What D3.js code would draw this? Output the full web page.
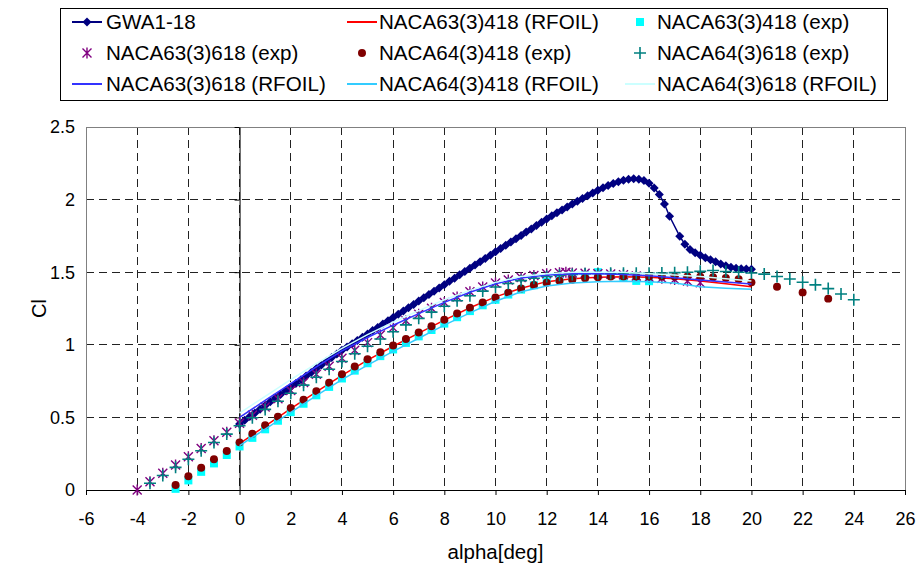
<!DOCTYPE html>
<html><head><meta charset="utf-8">
<script src="https://cdn.jsdelivr.net/npm/d3@7"></script>
<style>body{margin:0;background:#fff;} svg{display:block;font-family:"Liberation Sans",Arial,sans-serif;}</style>
</head><body><svg id="c" width="920" height="572"></svg>
<script>
// ---------- data ----------
const xTicks = [-6,-4,-2,0,2,4,6,8,10,12,14,16,18,20,22,24,26];
const yTicks = [0,0.5,1,1.5,2,2.5];
const yTickLabels = ["0","0.5","1","1.5","2","2.5"];

const gwaAlpha = [0,0.2,0.4,0.6,0.8,1,1.2,1.4,1.6,1.8,2,2.2,2.4,2.6,2.8,3,3.2,3.4,3.6,3.8,4,4.2,4.4,4.6,4.8,5,5.2,5.4,5.6,5.8,6,6.2,6.4,6.6,6.8,7,7.2,7.4,7.6,7.8,8,8.2,8.4,8.6,8.8,9,9.2,9.4,9.6,9.8,10,10.2,10.4,10.6,10.8,11,11.2,11.4,11.6,11.8,12,12.2,12.4,12.6,12.8,13,13.2,13.4,13.6,13.8,14,14.2,14.4,14.6,14.8,15,15.2,15.4,15.6,15.8,16,16.2,16.4,16.6,16.8,17.2,17.4,17.6,17.8,18,18.2,18.4,18.6,18.8,19,19.2,19.4,19.6,19.8,20];
const gwaCl = [0.455,0.480,0.506,0.531,0.556,0.582,0.607,0.633,0.658,0.683,
0.709,0.734,0.760,0.785,0.810,0.836,0.861,0.886,0.912,0.937,
0.962,0.985,1.007,1.030,1.052,1.075,1.098,1.120,1.143,1.165,
1.188,1.211,1.233,1.256,1.278,1.301,1.324,1.346,1.369,1.391,
1.414,1.437,1.459,1.482,1.504,1.527,1.550,1.572,1.595,1.617,
1.640,1.663,1.685,1.708,1.730,1.753,1.776,1.798,1.821,1.844,
1.866,1.888,1.909,1.929,1.949,1.969,1.989,2.008,2.027,2.046,
2.064,2.081,2.097,2.111,2.123,2.133,2.140,2.143,2.141,2.132,
2.112,2.080,2.035,1.970,1.885,
1.747,1.693,1.657,1.634,1.616,1.600,1.585,1.572,1.557,1.544,1.534,1.528,1.524,1.522,1.520];

const rfoilAlpha = [0,1,2,3,4,5,6,7,8,9,10,11,12,13,14,15,16,17,18,19,20];
const n63418RfoilCl = [0.320,0.440,0.560,0.675,0.790,0.895,0.990,1.080,1.170,1.255,1.330,1.390,1.435,1.455,1.465,1.468,1.465,1.455,1.440,1.420,1.400];
const n63618RfoilCl = [0.500,0.617,0.733,0.848,0.958,1.050,1.135,1.215,1.292,1.362,1.420,1.460,1.480,1.490,1.490,1.485,1.475,1.462,1.447,1.432,1.418];
const n64418RfoilCl = [0.305,0.420,0.535,0.650,0.760,0.860,0.955,1.045,1.135,1.220,1.300,1.365,1.405,1.425,1.435,1.437,1.435,1.425,1.400,1.390,1.383];
const n64618RfoilCl = [0.530,0.645,0.760,0.870,0.975,1.070,1.155,1.235,1.310,1.375,1.430,1.470,1.490,1.500,1.500,1.500,1.490,1.480,1.470,1.455,1.440];

const n63418ExpAlpha = [-2.5,-2,-1.5,-1,-0.5,0,0.5,1,1.5,2,2.5,3,3.5,4,4.5,5,5.5,6,6.5,7,7.5,8,8.5,9,9.5,10,10.5,11,11.5,12,12.5,13,13.5,14,14.5,15,15.5,16];
const n63418ExpCl = [0.008,0.066,0.125,0.183,0.241,0.300,0.359,0.418,0.477,0.536,0.594,0.652,0.710,0.768,0.822,0.873,0.922,0.968,1.013,1.058,1.102,1.146,1.190,1.232,1.272,1.310,1.346,1.380,1.410,1.435,1.455,1.470,1.482,1.500,1.480,1.462,1.440,1.438];

const n63618ExpAlpha = [-4,-3.5,-3,-2.5,-2,-1.5,-1,-0.5,0,0.5,1,1.5,2,2.5,3,3.5,4,4.5,5,5.5,6,6.5,7,7.5,8,8.5,9,9.5,10,10.5,11,11.5,12,12.5,12.75,13,13.5,14,14.5,15,15.5,16,16.5,17,17.5,18];
const n63618ExpCl = [0.000,0.057,0.115,0.172,0.229,0.285,0.340,0.397,0.460,0.515,0.572,0.628,0.685,0.740,0.797,0.853,0.908,0.962,1.015,1.068,1.118,1.165,1.210,1.252,1.292,1.330,1.366,1.398,1.425,1.447,1.464,1.478,1.489,1.496,1.500,1.494,1.492,1.490,1.487,1.482,1.474,1.466,1.458,1.450,1.440,1.428];

const n64418ExpAlpha = [-2.5,-2,-1.5,-1,-0.5,0,0.5,1,1.5,2,2.5,3,3.5,4,4.5,5,5.5,6,6.5,7,7.5,8,8.5,9,9.5,10,10.5,11,11.5,12,12.5,13,13.5,14,14.5,15,15.5,16,16.5,17,17.5,18,18.5,19,19.5,20,21,22,23];
const n64418ExpCl = [0.034,0.094,0.153,0.211,0.269,0.328,0.387,0.446,0.505,0.564,0.622,0.681,0.739,0.797,0.850,0.901,0.949,0.995,1.040,1.085,1.128,1.172,1.216,1.256,1.291,1.325,1.358,1.388,1.412,1.428,1.441,1.448,1.458,1.466,1.470,1.471,1.470,1.470,1.470,1.470,1.470,1.468,1.466,1.460,1.452,1.430,1.400,1.361,1.318];

const n64618ExpAlpha = [-3.5,-3,-2.5,-2,-1.5,-1,-0.5,0,0.5,1,1.5,2,2.5,3,3.5,4,4.5,5,5.5,6,6.5,7,7.5,8,8.5,9,9.5,10,10.5,11,11.5,12,12.5,13,13.5,14,14.5,15,15.5,16,16.5,17,17.5,18,18.5,19,19.5,20,20.5,21,21.5,22,22.5,23,23.5,24];
const n64618ExpCl = [0.046,0.100,0.156,0.212,0.270,0.327,0.385,0.442,0.498,0.555,0.611,0.666,0.722,0.777,0.832,0.885,0.938,0.990,1.040,1.090,1.137,1.182,1.225,1.265,1.303,1.338,1.370,1.398,1.422,1.442,1.458,1.470,1.479,1.485,1.489,1.491,1.492,1.492,1.492,1.492,1.495,1.497,1.500,1.506,1.512,1.505,1.500,1.494,1.487,1.470,1.453,1.431,1.413,1.387,1.350,1.310];

const legendLabels = ["GWA1-18","NACA63(3)418 (RFOIL)","NACA63(3)418 (exp)","NACA63(3)618 (exp)","NACA64(3)418 (exp)","NACA64(3)618 (exp)","NACA63(3)618 (RFOIL)","NACA64(3)418 (RFOIL)","NACA64(3)618 (RFOIL)"];

// ---------- drawing ----------
const svg = d3.select("#c");
svg.append("rect").attr("width",920).attr("height",572).attr("fill","#fff");
const x = d3.scaleLinear().domain([-6,26]).range([86,905]);
const y = d3.scaleLinear().domain([0,2.5]).range([490,127]);
const zip = (a,b)=>a.map((v,i)=>[v,b[i]]);

// grid
const grid = svg.append("g");
grid.selectAll("line.v").data(xTicks).join("line")
  .attr("x1",d=>x(d)).attr("x2",d=>x(d)).attr("y1",y(2.5)).attr("y2",y(0))
  .attr("stroke","#222").attr("stroke-width",1).attr("stroke-dasharray","8,5").attr("shape-rendering","crispEdges");
grid.selectAll("line.h").data(yTicks).join("line")
  .attr("y1",d=>y(d)).attr("y2",d=>y(d)).attr("x1",x(-6)).attr("x2",x(26))
  .attr("stroke","#222").attr("stroke-width",1).attr("stroke-dasharray","8,5").attr("shape-rendering","crispEdges");
// plot border
svg.append("rect").attr("x",x(-6)).attr("y",y(2.5)).attr("width",x(26)-x(-6)).attr("height",y(0)-y(2.5))
  .attr("fill","none").attr("stroke","#808080").attr("stroke-width",1).attr("shape-rendering","crispEdges");

// x axis at y=0
const xAxis = d3.axisBottom(x).tickValues(xTicks).tickSize(5).tickSizeOuter(0).tickPadding(17).tickFormat(d=>String(d));
const gx = svg.append("g").attr("transform",`translate(0,${y(0)})`).call(xAxis);
gx.select(".domain").attr("stroke","#000");
gx.selectAll(".tick line").attr("stroke","#000");
gx.selectAll("text").attr("font-size",18).attr("fill","#000").attr("font-family","Liberation Sans, Arial, sans-serif");
// y axis at alpha=0
const yAxis = d3.axisLeft(y).tickValues(yTicks).tickSize(5).tickSizeOuter(0).tickFormat("");
const gy = svg.append("g").attr("transform",`translate(${x(0)},0)`).call(yAxis);
gy.select(".domain").attr("stroke","#000");
gy.selectAll(".tick line").attr("stroke","#000");
// y tick labels at left (low)
svg.append("g").selectAll("text").data(yTicks).join("text")
  .attr("x",75).attr("y",d=>y(d)).attr("dy","0.35em").attr("text-anchor","end")
  .attr("font-size",18).text((d,i)=>yTickLabels[i]);

// axis titles
svg.append("text").attr("x",(x(-6)+x(26))/2).attr("y",559).attr("text-anchor","middle").attr("font-size",20.5).text("alpha[deg]");
svg.append("text").attr("transform",`translate(46,${(y(0)+y(2.5))/2}) rotate(-90)`).attr("text-anchor","middle").attr("font-size",20).text("Cl");

// symbols
const diamond = "M0,-4.5L4.5,0L0,4.5L-4.5,0Z";
const square = "M-4,-4H4V4H-4Z";
const asterisk = "M-4.5,-4.5L4.5,4.5M-4.5,4.5L4.5,-4.5M0,-5.5V5.5";
const plus = "M-6,0H6M0,-6V6";
const circle = d3.symbol(d3.symbolCircle,50)();

const line = d3.line().x(d=>x(d[0])).y(d=>y(d[1]));
const plot = svg.append("g");

function drawLine(data,color,w){
  plot.append("path").datum(data).attr("d",line).attr("fill","none").attr("stroke",color).attr("stroke-width",w);
}
function drawMarks(data,path,fill,stroke,sw){
  plot.append("g").selectAll("path").data(data).join("path")
    .attr("transform",d=>`translate(${x(d[0])},${y(d[1])})`).attr("d",path)
    .attr("fill",fill).attr("stroke",stroke).attr("stroke-width",sw);
}

const cGWA="#000080", cRed="#ff0000", cCyan="#00ffff", cPurple="#800080", cDarkRed="#800000", cTeal="#008080", cBlue="#3333ff", cLightBlue="#33ccff", cPale="#ccffff";

drawLine(zip(gwaAlpha,gwaCl),cGWA,1.5);
drawMarks(zip(gwaAlpha,gwaCl),diamond,cGWA,"none",0);
drawLine(zip(rfoilAlpha,n63418RfoilCl),cRed,1.5);
drawMarks(zip(n63418ExpAlpha,n63418ExpCl),square,cCyan,"none",0);
drawMarks(zip(n63618ExpAlpha,n63618ExpCl),asterisk,"none",cPurple,1.4);
drawMarks(zip(n64418ExpAlpha,n64418ExpCl),circle,cDarkRed,"none",0);
drawMarks(zip(n64618ExpAlpha,n64618ExpCl),plus,"none",cTeal,1.6);
drawLine(zip(rfoilAlpha,n63618RfoilCl),cBlue,1.5);
drawLine(zip(rfoilAlpha,n64418RfoilCl),cLightBlue,1.5);
drawLine(zip(rfoilAlpha,n64618RfoilCl),cPale,1.5);

// legend
const lg = svg.append("g");
lg.append("rect").attr("x",60.5).attr("y",8.5).attr("width",827).attr("height",92)
  .attr("fill","#fff").attr("stroke","#000").attr("stroke-width",1);
const colSym = [72,347,625], colText = [106,379,657], rowY = [22,53,84];
const legendStyle = [
  {line:cGWA, mark:diamond, fill:cGWA, stroke:"none"},
  {line:cRed},
  {mark:square, fill:cCyan, stroke:"none"},
  {mark:asterisk, fill:"none", stroke:cPurple, sw:1.4},
  {mark:circle, fill:cDarkRed, stroke:"none"},
  {mark:plus, fill:"none", stroke:cTeal, sw:1.6},
  {line:cBlue},
  {line:cLightBlue},
  {line:cPale}
];
legendLabels.forEach((lab,i)=>{
  const r = Math.floor(i/3), c = i%3;
  const st = legendStyle[i];
  const cx = colSym[c], cy = rowY[r];
  if(st.line) lg.append("line").attr("x1",cx).attr("x2",cx+30).attr("y1",cy).attr("y2",cy).attr("stroke",st.line).attr("stroke-width",2);
  if(st.mark) lg.append("path").attr("transform",`translate(${cx+15},${cy})`).attr("d",st.mark)
     .attr("fill",st.fill).attr("stroke",st.stroke).attr("stroke-width",st.sw||0);
  lg.append("text").attr("x",colText[c]).attr("y",cy).attr("dy","0.35em").attr("font-size",20.6).text(lab);
});
</script></body></html>
